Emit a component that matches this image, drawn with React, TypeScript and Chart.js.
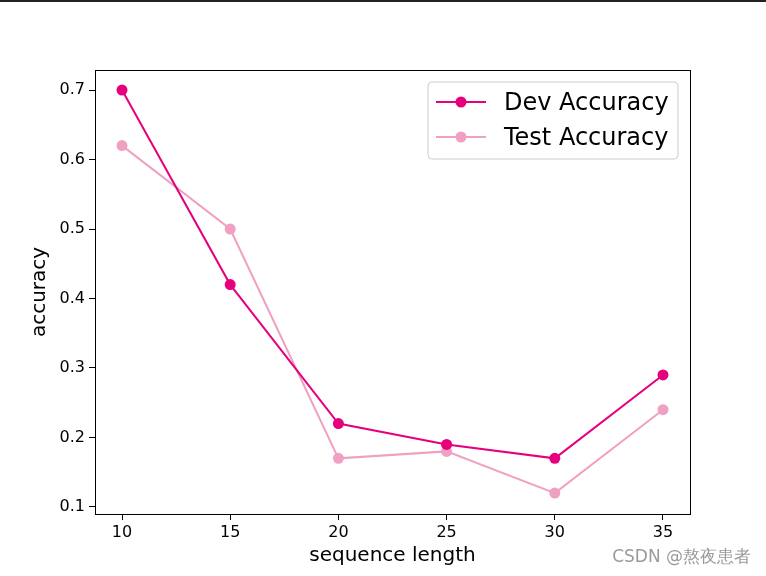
import React, { useEffect, useRef } from "react";
import { Chart, registerables } from "chart.js";

Chart.register(...registerables);

const seqLengths = [10, 15, 20, 25, 30, 35];
const devAccuracy = [0.70, 0.42, 0.22, 0.19, 0.17, 0.29];
const testAccuracy = [0.62, 0.50, 0.17, 0.18, 0.12, 0.24];
const yTicks = [0.1, 0.2, 0.3, 0.4, 0.5, 0.6, 0.7];
const xTicks = [10, 15, 20, 25, 30, 35];
const seriesNames = ["Dev Accuracy", "Test Accuracy"];
const xTitle = "sequence length";
const yTitle = "accuracy";
const watermark = "CSDN @熬夜患者";

const DEV_COLOR = "#e6007e";
const TEST_COLOR = "#f0a0c3";
const FONT = "'DejaVu Sans', sans-serif";

export default function App() {
  const ref = useRef<HTMLCanvasElement | null>(null);

  useEffect(() => {
    document.body.style.margin = "0";
    const canvas = ref.current!;
    const extras = {
      id: "extras",
      afterDraw(chart: any) {
        const ctx = chart.ctx;
        const ca = chart.chartArea;
        ctx.save();
        // frame
        ctx.strokeStyle = "#000";
        ctx.lineWidth = 1;
        ctx.strokeRect(Math.round(ca.left) + 0.5, Math.round(ca.top) + 0.5, Math.round(ca.right - ca.left), Math.round(ca.bottom - ca.top));
        // top rule
        ctx.fillStyle = "#222";
        ctx.fillRect(0, 0, 766, 2);
        // axis titles
        ctx.fillStyle = "#000";
        ctx.font = `20px ${FONT}`;
        ctx.textAlign = "center";
        ctx.textBaseline = "middle";
        ctx.fillText(xTitle, (ca.left + ca.right) / 2, 556);
        ctx.save();
        ctx.translate(40, (ca.top + ca.bottom) / 2);
        ctx.rotate(-Math.PI / 2);
        ctx.fillText(yTitle, 0, 0);
        ctx.restore();
        // legend
        const lx = 428, ly = 82, lw = 250, lh = 77;
        ctx.beginPath();
        const r = 4;
        ctx.moveTo(lx + r, ly);
        ctx.arcTo(lx + lw, ly, lx + lw, ly + lh, r);
        ctx.arcTo(lx + lw, ly + lh, lx, ly + lh, r);
        ctx.arcTo(lx, ly + lh, lx, ly, r);
        ctx.arcTo(lx, ly, lx + lw, ly, r);
        ctx.closePath();
        ctx.fillStyle = "rgba(255,255,255,0.8)";
        ctx.fill();
        ctx.strokeStyle = "#cccccc";
        ctx.lineWidth = 1;
        ctx.stroke();
        const colors = [DEV_COLOR, TEST_COLOR];
        seriesNames.forEach((name, i) => {
          const y = 102 + i * 35;
          ctx.strokeStyle = colors[i];
          ctx.lineWidth = 2;
          ctx.beginPath();
          ctx.moveTo(436, y);
          ctx.lineTo(486, y);
          ctx.stroke();
          ctx.fillStyle = colors[i];
          ctx.beginPath();
          ctx.arc(461, y, 5.5, 0, Math.PI * 2);
          ctx.fill();
          ctx.fillStyle = "#000";
          ctx.font = `24px ${FONT}`;
          ctx.textBaseline = "middle";
          ctx.textAlign = "left";
          ctx.fillText(name, 504, y + 2);
        });
        // watermark
        ctx.fillStyle = "#9a9a9a";
        ctx.font = `17px ${FONT}`;
        ctx.textAlign = "right";
        ctx.textBaseline = "middle";
        ctx.fillText(watermark, 751, 558);
        ctx.restore();
      },
    };

    const chart = new Chart(canvas, {
      type: "line",
      data: {
        datasets: [
          {
            label: seriesNames[0],
            data: seqLengths.map((x, i) => ({ x, y: devAccuracy[i] })),
            borderColor: DEV_COLOR,
            backgroundColor: DEV_COLOR,
            pointBackgroundColor: DEV_COLOR,
            pointBorderWidth: 0,
            pointRadius: 5.5,
            borderWidth: 2,
            tension: 0,
          },
          {
            label: seriesNames[1],
            data: seqLengths.map((x, i) => ({ x, y: testAccuracy[i] })),
            borderColor: TEST_COLOR,
            backgroundColor: TEST_COLOR,
            pointBackgroundColor: TEST_COLOR,
            pointBorderWidth: 0,
            pointRadius: 5.5,
            borderWidth: 2,
            tension: 0,
          },
        ],
      },
      options: {
        responsive: false,
        animation: false,
        events: [],
        layout: { padding: { left: 0, right: 76, top: 70, bottom: 0 } },
        plugins: { legend: { display: false }, tooltip: { enabled: false } },
        scales: {
          x: {
            type: "linear",
            min: 8.752,
            max: 36.248,
            afterBuildTicks: (s: any) => {
              s.ticks = xTicks.map((v) => ({ value: v }));
            },
            afterFit: (s: any) => {
              s.height = 62;
            },
            ticks: {
              color: "#000",
              font: { family: FONT, size: 16 },
              padding: 3,
              maxRotation: 0,
            },
            grid: {
              drawOnChartArea: false,
              drawTicks: true,
              tickLength: 6,
              tickColor: "#000",
            },
            border: { color: "#000", width: 1 },
          },
          y: {
            type: "linear",
            min: 0.0899,
            max: 0.7288,
            afterBuildTicks: (s: any) => {
              s.ticks = yTicks.map((v) => ({ value: v }));
            },
            afterFit: (s: any) => {
              s.width = 95;
            },
            ticks: {
              color: "#000",
              font: { family: FONT, size: 16 },
              padding: 4,
              callback: (v: any) => Number(v).toFixed(1),
            },
            grid: {
              drawOnChartArea: false,
              drawTicks: true,
              tickLength: 6,
              tickColor: "#000",
            },
            border: { color: "#000", width: 1 },
          },
        },
      },
      plugins: [extras],
    } as any);
    return () => chart.destroy();
  }, []);

  return (
    <div style={{ position: "absolute", left: 0, top: 0, width: 766, height: 576, background: "#fff" }}>
      <canvas ref={ref} width={766} height={576} style={{ width: 766, height: 576, display: "block" }} />
    </div>
  );
}
